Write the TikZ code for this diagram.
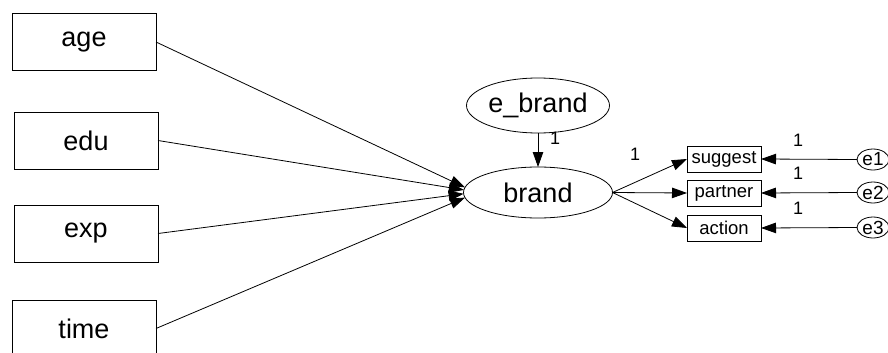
\documentclass[tikz,border=0pt]{standalone}
\usepackage{fontspec}
\setmainfont{Liberation Sans}
\usetikzlibrary{shapes.geometric,arrows.meta}
\begin{document}
\begin{tikzpicture}[x=1pt,y=-1pt,
  every node/.style={inner sep=0pt, outer sep=0pt},
  bigbox/.style={draw, line width=0.8pt, rectangle, minimum width=144pt, minimum height=57pt, font=\fontsize{27}{30}\selectfont},
  smallbox/.style={draw, line width=0.8pt, rectangle, minimum width=74pt, minimum height=26pt, font=\fontsize{18.5}{20}\selectfont},
  latent/.style={draw, line width=0.8pt, ellipse, font=\fontsize{27}{30}\selectfont},
  err/.style={draw, line width=0.8pt, ellipse, minimum width=32pt, minimum height=21pt, font=\fontsize{19}{20}\selectfont},
  lbl/.style={font=\fontsize{18}{20}\selectfont},
  path/.style={draw, line width=0.8pt, -{Triangle[length=15pt,width=10.5pt]}}
]
\useasboundingbox (0,0) rectangle (888,353);
\begin{scope}
\clip (0,0) rectangle (888,353);
\node[bigbox] (age) at (84,42) {age};
\node[bigbox] (edu) at (86,140.5) {edu};
\node[bigbox] (exp) at (86,233.5) {exp};
\node[bigbox] (time) at (84,328.5) {time};
\node[latent, minimum width=149pt, minimum height=51pt] (brand) at (538,192.5) {brand};
\node[latent, minimum width=143pt, minimum height=55pt] (ebrand) at (538,105.5) {e\_brand};
\node[smallbox] (suggest) at (724,159) {suggest};
\node[smallbox] (partner) at (724,193) {partner};
\node[smallbox] (action) at (724,228) {action};
\node[err] (e1) at (873,159.5) {e1};
\node[err] (e2) at (873,192.5) {e2};
\node[err] (e3) at (873,227.5) {e3};

\path[path] (age.east) -- (brand.176);
\path[path] (edu.east) -- (brand.178.5);
\path[path] (exp.east) -- (brand.181.5);
\path[path] (time.east) -- (brand.184);
\path[path] (ebrand.south) -- (brand.north);
\path[path] (brand.east) -- (suggest.west);
\path[path] (brand.east) -- (partner.west);
\path[path] (brand.east) -- (action.west);
\path[path] (e1.west) -- (suggest.east);
\path[path] (e2.west) -- (partner.east);
\path[path] (e3.west) -- (action.east);

\node[lbl] (l0) at (555,138) {1};
\node[lbl] (l1) at (635,154) {1};
\node[lbl] (l2) at (798,140) {1};
\node[lbl] (l3) at (798,173) {1};
\node[lbl] (l4) at (798,208) {1};
\end{scope}
\end{tikzpicture}
\end{document}
